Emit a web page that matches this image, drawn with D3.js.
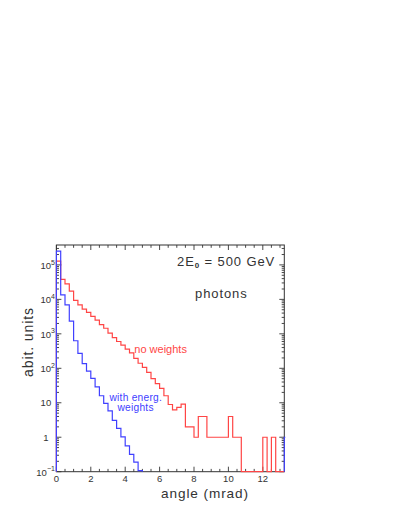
<!DOCTYPE html>
<html>
<head>
<meta charset="utf-8">
<script src="https://cdn.jsdelivr.net/npm/d3@7"></script>
<style>
  html, body { margin: 0; padding: 0; background: #fff; }
  svg { display: block; }
  text { font-family: "Liberation Sans", Arial, Helvetica, sans-serif; fill: #333; }
</style>
</head>
<body>
<svg id="chart" width="409" height="529"></svg>
<script>
// ---- data ----
const binWidth = 0.25;              // mrad per bin
const xTickValues = [0, 2, 4, 6, 8, 10, 12];
const yTickExponents = [-1, 0, 1, 2, 3, 4, 5];
// "no weights" histogram (red), 53 bins of 0.25 mrad from 0 to 13.25
const noWeights = [
  129000, 38000, 28000, 17400, 9300, 6900, 5200, 4200, 3200, 2500,
  1860, 1450, 1050, 780, 600, 470, 360, 280, 195, 140,
  107, 76, 50, 36, 26, 16, 8.9, 6.2, 7.4, 9.1,
  2, 2, 1, 4, 4, 1, 1, 1, 1, 1,
  4, 1, 1, 0, 0, 0, 0, 0, 1, 0,
  1, 0, 0
];
// "with energ. weights" histogram (blue); last entry is the overflow bin
const withWeights = [
  250000, 13500, 6900, 2350, 630, 270, 137, 83, 51, 29,
  16, 9.6, 5.8, 3.1, 1.8, 1.03, 0.56, 0.32, 0.19, 0.107,
  0, 0, 0, 0, 0, 0, 0, 0, 0, 0,
  0, 0, 0, 0, 0, 0, 0, 0, 0, 0,
  0, 0, 0, 0, 0, 0, 0, 0, 0, 0,
  0, 0, 0, 1
];
const xDomain = [0, 13.25];
const yDomain = [0.1, 3.78e5];
const titleLines = ["photons"];
const xTitle = "angle (mrad)";
const yTitle = "abit. units";

// ---- layout ----
const L = 56.4, T = 245, R = 284.3, B = 471.7;
const svg = d3.select("#chart");
const x = d3.scaleLinear().domain(xDomain).range([L, R]);
const y = d3.scaleLog().domain(yDomain).range([B, T]).clamp(true);

// clip
svg.append("defs").append("clipPath").attr("id", "plotclip")
  .append("rect").attr("x", L - 1.5).attr("y", T - 1).attr("width", R - L + 2.5).attr("height", B - T + 2);

// frame
svg.append("rect").attr("x", L).attr("y", T).attr("width", R - L).attr("height", B - T)
  .attr("fill", "none").attr("stroke", "#333").attr("stroke-width", 1);

// x ticks (bottom & top, inward)
const xMinor = d3.range(0, 13.25 + 1e-9, 0.5);
const tickG = svg.append("g").attr("stroke", "#333").attr("stroke-width", 0.9);
xMinor.forEach(v => {
  const major = Math.abs(v / 2 - Math.round(v / 2)) < 1e-9;
  const len = major ? 5 : 2.8;
  tickG.append("line").attr("x1", x(v)).attr("x2", x(v)).attr("y1", B).attr("y2", B - len);
  tickG.append("line").attr("x1", x(v)).attr("x2", x(v)).attr("y1", T).attr("y2", T + len);
});
// y ticks (left & right, inward)
yTickExponents.forEach(e => {
  for (let m = 1; m <= 9; m++) {
    const v = m * Math.pow(10, e);
    if (v < yDomain[0] || v > yDomain[1]) continue;
    const len = m === 1 ? 5 : 2.6;
    tickG.append("line").attr("x1", L).attr("x2", L + len).attr("y1", y(v)).attr("y2", y(v));
    tickG.append("line").attr("x1", R).attr("x2", R - len).attr("y1", y(v)).attr("y2", y(v));
  }
});

// x tick labels
svg.append("g").selectAll("text").data(xTickValues).join("text")
  .attr("x", d => x(d)).attr("y", B + 10.5)
  .attr("text-anchor", "middle").attr("font-size", 9.5)
  .text(d => d);

// y tick labels
const yl = svg.append("g");
yTickExponents.forEach(e => {
  const yy = y(Math.pow(10, e));
  if (e === 0 || e === 1) {
    yl.append("text").attr("x", L - 10.5).attr("y", yy).attr("dy", "0.35em")
      .attr("text-anchor", "middle").attr("font-size", 9.5).text(e === 0 ? "1" : "10");
  } else {
    const t = yl.append("text").attr("x", L - 1.5).attr("y", yy).attr("dy", "0.4em")
      .attr("text-anchor", "end").attr("font-size", 9.5);
    t.append("tspan").text("10");
    t.append("tspan").attr("dy", "-0.6em").attr("font-size", 7).text(e < 0 ? "\u2212" + (-e) : e);
  }
});

// histogram step path
function stepPath(vals, skipEmpty) {
  const p = d3.path();
  p.moveTo(x(0), B);
  vals.forEach((v, i) => {
    const x0 = x(i * binWidth), x1 = x((i + 1) * binWidth);
    const yy = v > 0 ? y(v) : B;
    p.lineTo(x0, yy);
    if (v > 0 || !skipEmpty) p.lineTo(x1, yy); else p.moveTo(x1, yy);
  });
  p.lineTo(x(vals.length * binWidth), B);
  return p.toString();
}
const plot = svg.append("g").attr("clip-path", "url(#plotclip)");
plot.append("path").attr("d", stepPath(noWeights, false))
  .attr("fill", "none").attr("stroke", "#ff4545").attr("stroke-width", 1.2);
plot.append("path").attr("d", stepPath(withWeights, true))
  .attr("fill", "none").attr("stroke", "#4040ff").attr("stroke-width", 1.2);

// annotations
const t1 = svg.append("text").attr("x", 177).attr("y", 265.7)
  .attr("font-size", 13).attr("letter-spacing", 0.9);
t1.append("tspan").text("2E");
t1.append("tspan").attr("dy", 2.5).attr("font-size", 8).attr("font-weight", "bold").text("0");
t1.append("tspan").attr("dy", -2.5).text(" = 500 GeV");

svg.append("text").attr("x", 195).attr("y", 297.5)
  .attr("font-size", 13).attr("letter-spacing", 0.9).text(titleLines[0]);

svg.append("text").attr("x", 134.3).attr("y", 352.5)
  .attr("font-size", 11).style("fill", "#ff4545").text("no weights");
svg.append("text").attr("x", 109.5).attr("y", 400.6)
  .attr("font-size", 10.2).attr("letter-spacing", 0.25).style("fill", "#4040ff").text("with energ.");
svg.append("text").attr("x", 117.5).attr("y", 411.4)
  .attr("font-size", 10.2).attr("letter-spacing", 0.25).style("fill", "#4040ff").text("weights");

// axis titles
svg.append("text").attr("x", 205).attr("y", 497.5).attr("text-anchor", "middle")
  .attr("font-size", 13.6).attr("letter-spacing", 0.9).text(xTitle);
svg.append("text").attr("transform", "translate(33,342) rotate(-90)")
  .attr("text-anchor", "middle").attr("font-size", 14).attr("letter-spacing", 0.9).text(yTitle);
</script>
</body>
</html>
